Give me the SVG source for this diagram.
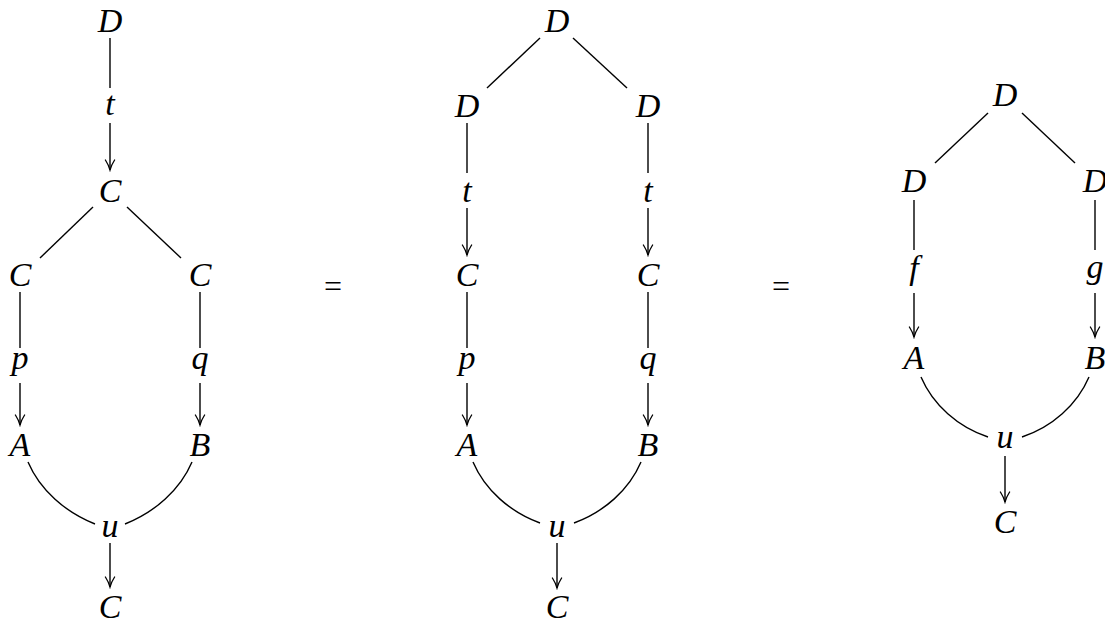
<svg xmlns="http://www.w3.org/2000/svg" width="1105" height="623" viewBox="0 0 1105 623">
<style>
.lbl{font-family:"Liberation Serif","Times New Roman",serif;font-style:italic;font-size:34px;text-anchor:middle;fill:#000}
.eq{font-family:"Liberation Serif","Times New Roman",serif;font-size:32px;text-anchor:middle;fill:#000}
.wire{stroke:#000;stroke-width:1.4;fill:none}
.arr{stroke:#000;stroke-width:1.4;fill:none;marker-end:url(#to)}
</style>
<defs>
<marker id="to" viewBox="-11 -6 13 12" refX="0" refY="0" markerWidth="13" markerHeight="12" markerUnits="userSpaceOnUse" orient="auto">
<path d="M -10,-4.6 C -6,-2 -1.5,-0.4 0,0 C -1.5,0.4 -6,2 -10,4.6" stroke="#000" stroke-width="1.3" fill="none" stroke-linecap="round"/>
</marker>
</defs>
<rect width="1105" height="623" fill="#fff"/>
<g id="connectors">
<!-- diagram 1 -->
<line class="wire" x1="110" y1="38" x2="110" y2="88"/>
<line class="arr" x1="110" y1="123" x2="110" y2="170"/>
<line class="wire" x1="93" y1="207" x2="40" y2="258"/>
<line class="wire" x1="127" y1="207" x2="181" y2="258"/>
<line class="wire" x1="20" y1="292" x2="20" y2="348"/>
<line class="wire" x1="200" y1="292" x2="200" y2="348"/>
<line class="arr" x1="20" y1="383" x2="20" y2="425"/>
<line class="arr" x1="200" y1="383" x2="200" y2="425"/>
<path class="wire" d="M28,462 C40,490 65,512 95,524"/>
<path class="wire" d="M192,462 C180,490 155,512 125,524"/>
<line class="arr" x1="110" y1="543" x2="110" y2="587"/>
<!-- diagram 2 -->
<line class="wire" x1="540" y1="38" x2="487" y2="88"/>
<line class="wire" x1="573" y1="38" x2="627" y2="88"/>
<line class="wire" x1="467" y1="123" x2="467" y2="173"/>
<line class="wire" x1="648" y1="123" x2="648" y2="173"/>
<line class="arr" x1="467" y1="208" x2="467" y2="255"/>
<line class="arr" x1="648" y1="208" x2="648" y2="255"/>
<line class="wire" x1="467" y1="292" x2="467" y2="348"/>
<line class="wire" x1="648" y1="292" x2="648" y2="348"/>
<line class="arr" x1="467" y1="383" x2="467" y2="425"/>
<line class="arr" x1="648" y1="383" x2="648" y2="425"/>
<path class="wire" d="M473,462 C485,490 510,512 540,523"/>
<path class="wire" d="M641,462 C629,490 604,512 574,523"/>
<line class="arr" x1="557" y1="543" x2="557" y2="588"/>
<!-- diagram 3 -->
<line class="wire" x1="988" y1="113" x2="935" y2="163"/>
<line class="wire" x1="1022" y1="113" x2="1075" y2="163"/>
<line class="wire" x1="914" y1="200" x2="914" y2="250"/>
<line class="wire" x1="1095" y1="200" x2="1095" y2="250"/>
<line class="arr" x1="914" y1="293" x2="914" y2="337"/>
<line class="arr" x1="1095" y1="293" x2="1095" y2="337"/>
<path class="wire" d="M921,377 C933,405 958,427 988,437"/>
<path class="wire" d="M1089,377 C1077,405 1052,427 1022,437"/>
<line class="arr" x1="1005" y1="456" x2="1005" y2="502"/>
</g>
<g id="d1-D0"><text class="lbl" x="110" y="32">D</text></g>
<g id="d1-t"><text class="lbl" x="110" y="115">t</text></g>
<g id="d1-C0"><text class="lbl" x="110" y="202">C</text></g>
<g id="d1-CL"><text class="lbl" x="20" y="286">C</text></g>
<g id="d1-CR"><text class="lbl" x="200" y="286">C</text></g>
<g id="d1-p"><text class="lbl" x="20" y="369">p</text></g>
<g id="d1-q"><text class="lbl" x="200" y="369">q</text></g>
<g id="d1-A"><text class="lbl" x="20" y="456">A</text></g>
<g id="d1-B"><text class="lbl" x="200" y="456">B</text></g>
<g id="d1-u"><text class="lbl" x="110" y="537">u</text></g>
<g id="d1-C1"><text class="lbl" x="110" y="618">C</text></g>
<g id="eq1"><text class="eq" x="333" y="297">=</text></g>
<g id="d2-D0"><text class="lbl" x="557" y="32">D</text></g>
<g id="d2-DL"><text class="lbl" x="467" y="117">D</text></g>
<g id="d2-DR"><text class="lbl" x="648" y="117">D</text></g>
<g id="d2-tL"><text class="lbl" x="467" y="202">t</text></g>
<g id="d2-tR"><text class="lbl" x="648" y="202">t</text></g>
<g id="d2-CL"><text class="lbl" x="467" y="286">C</text></g>
<g id="d2-CR"><text class="lbl" x="648" y="286">C</text></g>
<g id="d2-p"><text class="lbl" x="467" y="369">p</text></g>
<g id="d2-q"><text class="lbl" x="648" y="369">q</text></g>
<g id="d2-A"><text class="lbl" x="467" y="456">A</text></g>
<g id="d2-B"><text class="lbl" x="648" y="456">B</text></g>
<g id="d2-u"><text class="lbl" x="557" y="537">u</text></g>
<g id="d2-C"><text class="lbl" x="557" y="618">C</text></g>
<g id="eq2"><text class="eq" x="781" y="297">=</text></g>
<g id="d3-D0"><text class="lbl" x="1005" y="106">D</text></g>
<g id="d3-DL"><text class="lbl" x="914" y="192">D</text></g>
<g id="d3-DR"><text class="lbl" x="1095" y="192">D</text></g>
<g id="d3-f"><text class="lbl" x="914" y="279">f</text></g>
<g id="d3-g"><text class="lbl" x="1095" y="278">g</text></g>
<g id="d3-A"><text class="lbl" x="914" y="369">A</text></g>
<g id="d3-B"><text class="lbl" x="1095" y="369">B</text></g>
<g id="d3-u"><text class="lbl" x="1005" y="448">u</text></g>
<g id="d3-C"><text class="lbl" x="1005" y="533">C</text></g>
</svg>
